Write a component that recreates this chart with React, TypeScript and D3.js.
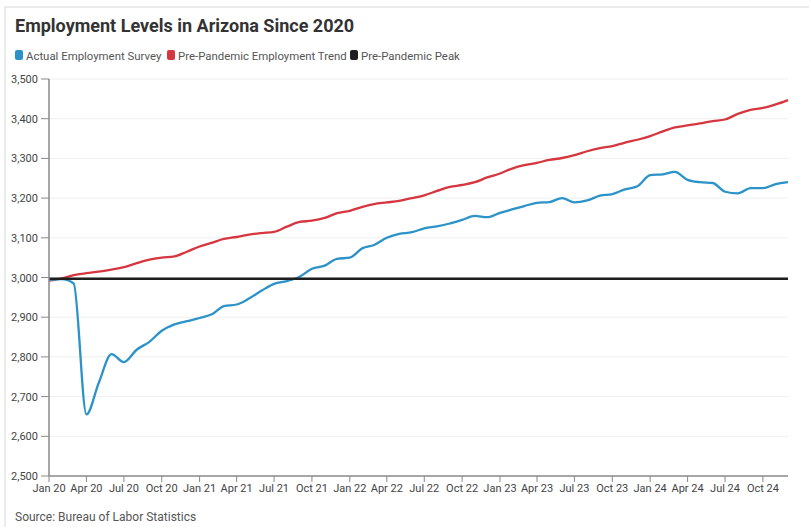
import React from "react";
import * as d3 from "d3";

// monthly values, thousands of jobs, Jan 2020 .. Dec 2024
const actual = [
  2994, 2996, 2985, 2655, 2735, 2807, 2787, 2818, 2838, 2866, 2882, 2890,
  2898, 2908, 2928, 2932, 2947, 2967, 2984, 2991, 3002, 3022, 3030, 3047,
  3050, 3074, 3082, 3100, 3110, 3114, 3124, 3129, 3136, 3145, 3155, 3152,
  3163, 3172, 3180, 3188, 3190, 3200, 3189, 3194, 3206, 3210, 3222, 3230,
  3258, 3260, 3266, 3246, 3240, 3238, 3216, 3212, 3225, 3225, 3235, 3240,
];
const trend = [
  2992, 2998, 3006, 3011, 3015, 3020, 3026, 3036, 3045, 3050, 3053, 3065,
  3078, 3088, 3097, 3102, 3108, 3112, 3115, 3128, 3140, 3143, 3150, 3162,
  3168, 3178, 3185, 3189, 3193, 3200, 3207, 3218, 3228, 3233, 3240, 3252,
  3262, 3275, 3283, 3289, 3296, 3301, 3308, 3318, 3326, 3331, 3340, 3347,
  3356, 3368, 3378, 3383, 3388, 3394, 3398, 3412, 3422, 3427, 3436, 3447,
];
const peak = 2997;
const yTicks = [2500, 2600, 2700, 2800, 2900, 3000, 3100, 3200, 3300, 3400, 3500];
const legendItems = [
  { label: "Actual Employment Survey", color: "#2b93c8" },
  { label: "Pre-Pandemic Employment Trend", color: "#d6363f" },
  { label: "Pre-Pandemic Peak", color: "#1e1e1e" },
];

const W = 809;
const H = 527;
const font = "Roboto, 'Noto Sans', sans-serif";
const legendX = [15, 167, 350];

export default function App() {
  const months = actual.map((_, i) => new Date(2020, i, 1));
  const x = d3
    .scaleTime()
    .domain([months[0], months[months.length - 1]])
    .range([49, 788]);
  const y = d3.scaleLinear().domain([2500, 3500]).range([476, 79]);
  const xTicks = d3.timeMonth.every(3)!.range(months[0], new Date(2024, 11, 2));
  const fmt = d3.timeFormat("%b %y");

  const line = d3
    .line<number>()
    .x((_, i) => x(months[i]))
    .y((d) => y(d))
    .curve(d3.curveMonotoneX);

  return (
    <svg
      width={W}
      height={H}
      style={{ position: "absolute", left: 0, top: 0, background: "#fff" }}
      fontFamily={font}
    >
      <rect x={5} y={7} width={W} height={H} fill="none" stroke="#e5e5e5" strokeWidth={1.5} />
      <text x={15} y={32} fontSize={18} fontWeight={700} fill="#333">
        Employment Levels in Arizona Since 2020
      </text>
      {legendItems.map((it, i) => (
        <g key={it.label}>
          <rect x={legendX[i]} y={50} width={8} height={10} rx={2} fill={it.color} />
          <text x={legendX[i] + 11} y={59.5} fontSize={11.4} fill="#555">
            {it.label}
          </text>
        </g>
      ))}

      {yTicks.map((t) => (
        <g key={t}>
          {t > 2500 && (
            <line x1={49} x2={788} y1={y(t)} y2={y(t)} stroke="#efefef" strokeWidth={1} />
          )}
          <line x1={41} x2={49} y1={y(t)} y2={y(t)} stroke="#888" />
          <text x={38} y={y(t) + 4} fontSize={11} textAnchor="end" fill="#444">
            {d3.format(",")(t)}
          </text>
        </g>
      ))}

      {xTicks.map((d) => (
        <g key={d.getTime()}>
          <line x1={x(d)} x2={x(d)} y1={476} y2={482} stroke="#888" />
          <text x={x(d)} y={492} fontSize={11} textAnchor="middle" fill="#444">
            {fmt(d)}
          </text>
        </g>
      ))}

      <path d={line(trend) || ""} fill="none" stroke="#d6363f" strokeWidth={2.3} />
      <path d={line(actual) || ""} fill="none" stroke="#2b93c8" strokeWidth={2.3} />
      <line x1={49} x2={788} y1={y(peak)} y2={y(peak)} stroke="#1e1e1e" strokeWidth={2.5} />

      <line x1={49} x2={49} y1={79} y2={476} stroke="#888" strokeWidth={1.5} />
      <line x1={49} x2={788} y1={476} y2={476} stroke="#888" strokeWidth={1.5} />

      <text x={15} y={521} fontSize={12} fill="#555">
        Source: Bureau of Labor Statistics
      </text>
    </svg>
  );
}
